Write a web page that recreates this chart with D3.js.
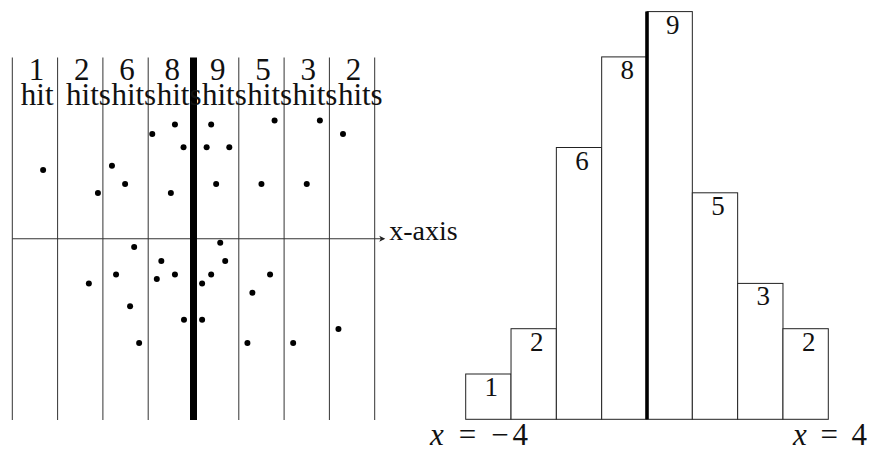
<!DOCTYPE html>
<html>
<head>
<meta charset="utf-8">
<script src="https://cdn.jsdelivr.net/npm/d3@7"></script>
<style>
  body { margin: 0; background: #fff; }
  svg { display: block; }
  text { font-family: "Liberation Serif", "DejaVu Serif", serif; fill: #111; }
</style>
</head>
<body>
<div id="chart-area"></div>
<script>
// bins from x = -4 to x = 4, one unit wide
const binEdges = [-4, -3, -2, -1, 0, 1, 2, 3, 4];
const hitCounts = [1, 2, 6, 8, 9, 5, 3, 2];

// scattered hits (x, y)
const dotX = [-3.32, -1.80, -2.11, -1.51, -0.91, -0.41, -0.22, -0.50, 0.39, 0.29, 0.79, 0.50,
	1.79, 1.50, 2.79, 2.50, 3.30,
	-1.31, 0.59, -0.71, 0.70, -1.71, -0.41, 0.39, 1.69, -2.31, -0.81, 0.19, 1.30, -1.40,
	-0.21, 0.19, 3.20, -1.20, 1.19, 2.20];
const dotY = [1.52, 1.61, 1.01, 1.21, 2.31, 2.52, 2.02, 1.01, 2.52, 2.02, 2.02, 1.21,
	2.61, 1.21, 2.61, 1.21, 2.31,
	-0.18, -0.09, -0.49, -0.49, -0.79, -0.79, -0.79, -0.79, -0.99, -0.89, -0.99, -1.19, -1.49,
	-1.79, -1.79, -1.99, -2.30, -2.30, -2.30];

const svg = d3.select("#chart-area")
	.append("svg")
	.attr("width", 869)
	.attr("height", 449);

// ---------- left panel ----------
const lx = d3.scaleLinear().domain([-4, 4]).range([12.3, 374.7]);
const ly = d3.scaleLinear().domain([-4, 4]).range([420, 57.5]);

const left = svg.append("g").attr("class", "left-panel");

left.selectAll(".bin-line")
	.data(binEdges.filter(d => d !== 0))
	.enter()
	.append("line")
	.attr("class", "bin-line")
	.attr("x1", d => lx(d))
	.attr("x2", d => lx(d))
	.attr("y1", ly(4))
	.attr("y2", ly(-4))
	.attr("stroke", "#333")
	.attr("stroke-width", 1);

// x-axis with arrow
left.append("line")
	.attr("x1", lx(-4))
	.attr("x2", lx(4.2))
	.attr("y1", ly(0))
	.attr("y2", ly(0))
	.attr("stroke", "#333")
	.attr("stroke-width", 1);

const tipX = lx(4.2) + 1.5;
left.append("path")
	.attr("d", `M${tipX},${ly(0)} L${tipX - 6},${ly(0) - 3} L${tipX - 4.5},${ly(0)} L${tipX - 6},${ly(0) + 3} Z`)
	.attr("fill", "#222");

left.append("text")
	.attr("x", tipX + 4)
	.attr("y", ly(0) + 1.5)
	.attr("font-size", "28px")
	.text("x-axis");

// thick centre line
left.append("line")
	.attr("x1", lx(0))
	.attr("x2", lx(0))
	.attr("y1", ly(4))
	.attr("y2", ly(-4))
	.attr("stroke", "#000")
	.attr("stroke-width", 7);

left.selectAll(".dot")
	.data(dotX.map((x, i) => ({ x: x, y: dotY[i] })))
	.enter()
	.append("circle")
	.attr("class", "dot")
	.attr("cx", d => lx(d.x))
	.attr("cy", d => ly(d.y))
	.attr("r", 3)
	.attr("fill", "#000");

// labels above each bin
const bins = hitCounts.map((c, i) => ({ lo: binEdges[i], hi: binEdges[i + 1], count: c }));

left.selectAll(".count-label")
	.data(bins)
	.enter()
	.append("text")
	.attr("class", "count-label")
	.attr("x", d => (lx(d.lo) + lx(d.hi)) / 2 + 1.5)
	.attr("y", 79.5)
	.attr("font-size", "31px")
	.attr("text-anchor", "middle")
	.text(d => d.count);

left.selectAll(".hit-label")
	.data(bins)
	.enter()
	.append("text")
	.attr("class", "hit-label")
	.attr("x", d => lx(d.lo) + 8.5)
	.attr("y", 105)
	.attr("font-size", "31px")
	.text(d => d.count === 1 ? "hit" : "hits");

// ---------- right panel ----------
const rx = d3.scaleLinear().domain([-4, 4]).range([465.7, 828.3]);
const ry = d3.scaleLinear().domain([0, 9]).range([419.3, 11.6]);

const right = svg.append("g").attr("class", "right-panel");

right.selectAll(".bar")
	.data(bins)
	.enter()
	.append("rect")
	.attr("class", "bar")
	.attr("x", d => rx(d.lo))
	.attr("y", d => ry(d.count))
	.attr("width", d => rx(d.hi) - rx(d.lo))
	.attr("height", d => ry(0) - ry(d.count))
	.attr("fill", "#fff")
	.attr("stroke", "#222")
	.attr("stroke-width", 1);

right.append("line")
	.attr("x1", rx(0))
	.attr("x2", rx(0))
	.attr("y1", ry(d3.max(hitCounts)))
	.attr("y2", ry(0))
	.attr("stroke", "#000")
	.attr("stroke-width", 3.6);

right.selectAll(".bar-label")
	.data(bins)
	.enter()
	.append("text")
	.attr("class", "bar-label")
	.attr("x", d => (rx(d.lo) + rx(d.hi)) / 2 + 3)
	.attr("y", d => ry(d.count) + 22)
	.attr("font-size", "27px")
	.attr("text-anchor", "middle")
	.text(d => d.count);

// end labels
const endLabel = (xPos, anchor, value, len) => {
	const t = right.append("text")
		.attr("x", xPos)
		.attr("y", 445)
		.attr("font-size", "31px")
		.attr("text-anchor", anchor)
		.attr("textLength", len)
		.attr("lengthAdjust", "spacing");
	t.append("tspan").attr("font-style", "italic").text("x");
	t.append("tspan").text(` = ${value}`);
};
endLabel(430, "start", "\u22124", 98);
endLabel(867, "end", "4", 74);
</script>
</body>
</html>
